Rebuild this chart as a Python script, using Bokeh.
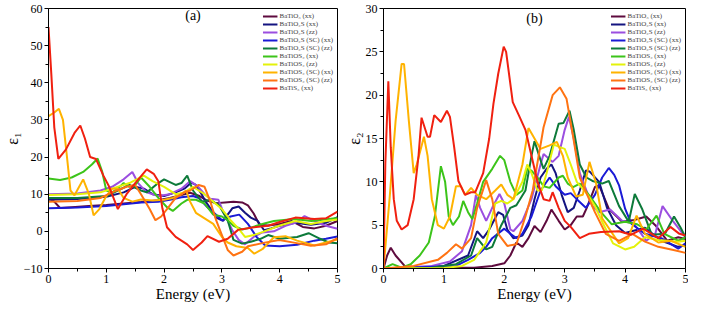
from bokeh.plotting import figure
from bokeh.models import Range1d, Legend, LegendItem, Label, FixedTicker
from bokeh.layouts import row
from bokeh.embed import file_html
from bokeh.resources import INLINE

# ---------------- data: panel (a) epsilon_1 ----------------
labels = ["BaTiO₃ (xx)", "BaTiO₂S (xx)", "BaTiO₂S (zz)", "BaTiO₂S (SC) (xx)",
          "BaTiO₂S (SC) (zz)", "BaTiOS₂ (xx)", "BaTiOS₂ (zz)", "BaTiOS₂ (SC) (xx)",
          "BaTiOS₂ (SC) (zz)", "BaTiS₃ (xx)"]
colors = ["#5e0b3e", "#141480", "#9b4ee0", "#1a1ad6", "#0d7a3a",
          "#3cc41a", "#e4f20a", "#ffb300", "#ff7312", "#f02010"]

x_ticks = [0, 1, 2, 3, 4, 5]
x_minor = [0.5, 1.5, 2.5, 3.5, 4.5]
a_y_ticks = [-10, 0, 10, 20, 30, 40, 50, 60]
a_y_minor = [-5, 5, 15, 25, 35, 45, 55]
b_y_ticks = [0, 5, 10, 15, 20, 25, 30]
b_y_minor = [2.5, 7.5, 12.5, 17.5, 22.5, 27.5]

a_bto3_x = [0, 0.1, 0.2, 0.4, 0.7, 1.0, 1.3, 1.6, 1.9, 2.1, 2.3, 2.45, 2.6, 2.75, 2.9, 3.05, 3.2, 3.35, 3.45, 3.55, 3.65, 3.8, 4.0, 4.2, 4.4, 4.6, 4.8, 5.0]
a_bto3_y = [9.0, 8.0, 6.3, 6.5, 6.8, 7.1, 7.5, 7.9, 8.4, 9.0, 9.8, 10.4, 9.6, 8.2, 7.6, 7.8, 8.0, 7.8, 7.0, 4.8, 1.8, 1.6, 2.0, 2.8, 1.2, 0.8, 1.5, 2.8]

a_bto2s_xx_x = [0, 0.5, 1.0, 1.3, 1.5, 1.65, 1.8, 2.0, 2.2, 2.35, 2.47, 2.55, 2.63, 2.72, 2.8, 2.9, 3.02, 3.18, 3.29, 3.4, 3.5, 3.62, 3.73, 3.85, 4.0, 4.27, 4.54, 4.8, 5.0]
a_bto2s_xx_y = [8.5, 8.7, 9.3, 10.5, 12.0, 11.5, 10.0, 9.5, 10.5, 11.5, 13.1, 12.5, 10.5, 8.0, 6.2, 3.7, 2.8, 6.2, 6.7, 5.0, 3.7, 2.8, 0.3, 0.8, 1.5, 2.3, 1.8, 2.3, 3.8]

a_bto2s_zz_x = [0, 0.5, 0.9, 1.1, 1.3, 1.45, 1.55, 1.7, 1.9, 2.1, 2.3, 2.45, 2.58, 2.7, 2.8, 2.94, 3.02, 3.18, 3.29, 3.4, 3.55, 3.7, 3.9, 4.1, 4.27, 4.43, 4.6, 4.8, 5.0]
a_bto2s_zz_y = [10.0, 10.2, 11.0, 12.0, 14.0, 16.0, 13.0, 10.5, 9.5, 10.0, 11.5, 13.5, 12.2, 10.0, 8.8, 8.5, 5.4, 0.3, -2.3, -3.5, -1.5, -0.3, 0.0, 1.5, 2.3, 4.1, 2.8, 1.5, 0.7]

a_bto2s_scxx_x = [0, 0.5, 1.0, 1.3, 1.6, 1.9, 2.1, 2.3, 2.5, 2.6, 2.75, 2.9, 3.0, 3.15, 3.3, 3.45, 3.6, 3.75, 4.0, 4.3, 4.6, 4.8, 5.0]
a_bto2s_scxx_y = [6.2, 6.4, 6.8, 7.3, 7.8, 8.0, 8.5, 9.2, 9.5, 9.0, 6.5, 4.5, 3.0, 4.0, 4.5, 2.0, -1.5, -3.8, -4.0, -3.6, -2.5, -2.0, -1.4]

a_bto2s_sczz_x = [0, 0.5, 1.0, 1.2, 1.4, 1.6, 1.7, 1.9, 2.0, 2.2, 2.3, 2.4, 2.5, 2.65, 2.8, 2.95, 3.1, 3.2, 3.35, 3.5, 3.67, 3.8, 4.0, 4.3, 4.5, 4.7, 4.85, 5.0]
a_bto2s_sczz_y = [9.0, 9.0, 9.5, 11.0, 12.5, 11.0, 10.5, 13.0, 14.0, 12.5, 13.0, 15.0, 11.0, 8.0, 8.5, 7.0, 3.0, -2.3, -3.3, -2.8, -2.0, -1.0, -2.0, -1.5, -0.5, -2.0, -3.0, -3.2]

a_btos2_xx_x = [0, 0.1, 0.2, 0.4, 0.6, 0.75, 0.85, 0.93, 1.0, 1.1, 1.2, 1.3, 1.4, 1.5, 1.6, 1.75, 1.9, 2.05, 2.15, 2.3, 2.4, 2.55, 2.7, 2.85, 3.0, 3.1, 3.2, 3.35, 3.5, 3.7, 3.9, 4.25, 4.55, 5.0]
a_btos2_xx_y = [14.2, 14.0, 13.8, 14.5, 16.0, 18.0, 19.6, 16.0, 11.0, 10.5, 11.5, 13.0, 12.0, 12.5, 14.5, 12.0, 9.0, 6.5, 5.5, 7.5, 8.5, 8.5, 7.5, 4.5, 4.0, 3.0, 1.5, 0.5, 1.0, 2.0, 2.8, 3.3, 2.8, 3.6]

a_btos2_zz_x = [0, 0.5, 0.9, 1.1, 1.4, 1.65, 1.8, 2.0, 2.2, 2.35, 2.5, 2.6, 2.7, 2.85, 3.0, 3.15, 3.3, 3.4, 3.55, 3.7, 3.99, 4.27, 4.54, 4.8, 5.0]
a_btos2_zz_y = [9.8, 10.0, 10.5, 11.5, 13.0, 15.0, 13.5, 12.0, 10.0, 10.5, 12.0, 11.0, 10.0, 8.0, 6.0, 3.0, 0.5, -1.5, -1.0, -0.2, 1.5, 2.8, 2.0, 2.8, 3.2]

a_btos2_scxx_x = [0, 0.1, 0.18, 0.25, 0.32, 0.38, 0.45, 0.53, 0.6, 0.7, 0.78, 0.88, 1.0, 1.1, 1.2, 1.3, 1.45, 1.6, 1.8, 2.0, 2.15, 2.3, 2.38, 2.45, 2.55, 2.7, 2.85, 3.0, 3.1, 3.25, 3.45, 3.56, 3.7, 3.9, 4.1, 4.3, 4.6, 5.0]
a_btos2_scxx_y = [31.0, 32.0, 33.0, 30.0, 20.0, 11.0, 9.7, 12.0, 14.0, 10.0, 4.3, 6.0, 9.5, 11.5, 11.5, 9.0, 8.0, 8.6, 8.3, 8.5, 9.0, 10.0, 11.0, 8.0, 5.0, 3.5, 2.0, -1.5, -3.0, -4.0, -4.5, -6.0, -4.8, -1.6, -1.3, -2.5, -3.8, -2.2]

a_btos2_sczz_x = [0, 0.5, 0.9, 1.1, 1.35, 1.5, 1.6, 1.75, 1.85, 1.95, 2.05, 2.2, 2.35, 2.45, 2.6, 2.7, 2.8, 2.9, 3.0, 3.1, 3.2, 3.35, 3.45, 3.72, 3.99, 4.27, 4.54, 4.8, 5.0]
a_btos2_sczz_y = [8.0, 8.2, 9.0, 10.5, 12.0, 12.5, 10.0, 6.0, 3.0, 4.0, 6.0, 9.0, 10.5, 11.0, 12.5, 12.0, 8.0, 3.0, -1.0, -5.0, -6.5, -5.5, -4.0, -3.1, -2.3, -3.1, -3.9, -3.5, -1.8]

a_bts3_x = [0, 0.05, 0.1, 0.17, 0.3, 0.45, 0.55, 0.63, 0.72, 0.82, 0.95, 1.05, 1.2, 1.35, 1.5, 1.7, 1.82, 1.9, 1.97, 2.05, 2.2, 2.4, 2.5, 2.65, 2.75, 2.95, 3.1, 3.28, 3.5, 3.8, 4.0, 4.27, 4.6, 4.8, 5.0]
a_bts3_y = [55.0, 42.0, 28.0, 19.5, 22.0, 26.5, 28.5, 25.0, 20.0, 19.5, 15.0, 12.0, 6.0, 10.0, 13.0, 16.7, 15.5, 13.5, 6.2, 1.1, -1.5, -3.5, -5.0, -3.0, -1.3, -2.8, -2.0, 0.4, 1.0, 1.5, 2.5, 3.7, 3.3, 3.5, 5.3]

# ---------------- data: panel (b) epsilon_2 ----------------
b_bto3_x = [0, 0.06, 0.12, 0.2, 0.35, 0.6, 1.0, 1.5, 1.8, 2.0, 2.1, 2.2, 2.3, 2.4, 2.5, 2.6, 2.7, 2.78, 2.9, 3.0, 3.1, 3.2, 3.3, 3.36, 3.5, 3.57, 3.73, 3.95, 4.15, 4.35, 4.5, 4.7, 4.88, 5.0]
b_bto3_y = [0, 1.5, 2.4, 1.5, 0.3, 0.1, 0.1, 0.1, 0.3, 0.6, 1.5, 3.0, 2.5, 3.5, 4.9, 4.2, 5.5, 6.8, 5.5, 4.5, 5.0, 6.0, 6.0, 6.9, 9.4, 9.6, 6.9, 5.4, 5.6, 6.0, 5.0, 3.2, 3.6, 3.4]

b_bto2s_xx_x = [0, 0.5, 1.0, 1.4, 1.55, 1.65, 1.75, 1.9, 1.98, 2.05, 2.15, 2.3, 2.4, 2.5, 2.6, 2.7, 2.78, 2.85, 2.95, 3.05, 3.15, 3.25, 3.35, 3.41, 3.57, 3.7, 3.85, 4.0, 4.33, 4.6, 4.88, 5.0]
b_bto2s_xx_y = [0, 0.05, 0.3, 1.5, 4.3, 3.5, 4.5, 6.5, 6.2, 4.5, 3.5, 3.8, 5.0, 8.0, 10.5, 11.5, 12.0, 11.0, 8.5, 6.5, 7.0, 9.0, 11.3, 11.2, 10.0, 7.0, 5.0, 4.1, 4.7, 3.2, 2.5, 2.7]

b_bto2s_zz_x = [0, 0.8, 1.1, 1.3, 1.45, 1.53, 1.6, 1.7, 1.8, 1.92, 2.0, 2.1, 2.15, 2.3, 2.45, 2.6, 2.65, 2.8, 2.9, 3.0, 3.07, 3.15, 3.25, 3.36, 3.46, 3.57, 3.75, 3.95, 4.14, 4.35, 4.5, 4.62, 4.8, 5.0]
b_bto2s_zz_y = [0, 0.3, 0.8, 2.0, 5.0, 8.5, 7.0, 5.5, 7.0, 8.6, 7.5, 4.5, 4.3, 5.5, 8.0, 12.0, 13.2, 12.3, 13.0, 16.0, 17.5, 15.0, 11.0, 9.0, 7.2, 6.5, 6.8, 5.5, 5.2, 3.2, 4.0, 7.2, 5.4, 3.6]

b_bto2s_scxx_x = [0, 1.2, 1.4, 1.6, 1.7, 1.8, 2.0, 2.1, 2.2, 2.3, 2.45, 2.6, 2.75, 2.85, 3.0, 3.1, 3.2, 3.35, 3.5, 3.62, 3.73, 3.82, 3.9, 4.0, 4.1, 4.33, 4.6, 4.88, 5.0]
b_bto2s_scxx_y = [0, 0.3, 1.0, 1.8, 2.5, 3.5, 4.6, 4.0, 3.5, 4.0, 6.0, 9.0, 10.5, 9.5, 8.5, 8.7, 8.0, 7.0, 8.5, 10.5, 11.6, 10.8, 9.6, 6.9, 5.2, 4.0, 3.5, 2.3, 2.9]

b_bto2s_sczz_x = [0, 0.8, 1.2, 1.45, 1.55, 1.7, 1.8, 1.95, 2.1, 2.2, 2.35, 2.45, 2.5, 2.6, 2.65, 2.75, 2.9, 2.98, 3.08, 3.15, 3.25, 3.36, 3.46, 3.62, 3.73, 3.9, 4.06, 4.16, 4.28, 4.44, 4.66, 4.81, 4.92, 5.0]
b_bto2s_sczz_y = [0, 0.1, 0.5, 1.5, 3.5, 2.2, 2.5, 5.0, 7.0, 7.3, 9.0, 13.0, 14.7, 12.5, 11.5, 13.0, 16.7, 16.8, 18.2, 16.0, 12.0, 10.5, 10.1, 9.8, 10.1, 7.2, 5.4, 8.6, 6.9, 3.9, 4.0, 6.0, 4.7, 3.6]

b_btos2_xx_x = [0, 0.15, 0.3, 0.45, 0.6, 0.75, 0.85, 0.95, 1.02, 1.08, 1.15, 1.25, 1.32, 1.4, 1.47, 1.55, 1.65, 1.8, 1.93, 2.0, 2.1, 2.2, 2.3, 2.38, 2.45, 2.55, 2.65, 2.75, 2.9, 2.97, 3.05, 3.14, 3.25, 3.4, 3.6, 3.78, 4.0, 4.2, 4.35, 4.52, 4.65, 4.88, 5.0]
b_btos2_xx_y = [0, 0.5, 0.1, 0.5, 1.5, 3.0, 6.0, 11.8, 10.0, 6.0, 5.0, 6.0, 7.8, 6.5, 5.7, 7.5, 10.0, 11.5, 13.0, 12.5, 10.0, 8.5, 9.0, 11.5, 11.3, 10.5, 9.5, 9.3, 10.5, 10.7, 9.8, 9.4, 9.8, 8.5, 6.5, 5.1, 5.4, 5.1, 4.5, 6.1, 4.0, 3.2, 3.6]

b_btos2_zz_x = [0, 1.0, 1.3, 1.5, 1.6, 1.7, 1.8, 1.85, 1.95, 2.05, 2.15, 2.3, 2.38, 2.45, 2.55, 2.62, 2.7, 2.82, 2.92, 3.0, 3.1, 3.2, 3.36, 3.5, 3.62, 3.8, 4.0, 4.15, 4.33, 4.55, 4.88, 5.0]
b_btos2_zz_y = [0, 0.05, 0.3, 1.0, 2.0, 3.0, 6.0, 7.5, 7.8, 7.5, 8.0, 10.0, 12.0, 11.0, 9.0, 9.0, 11.0, 14.3, 14.0, 13.8, 12.0, 10.0, 8.7, 7.2, 5.4, 2.9, 2.2, 2.5, 3.6, 3.3, 3.1, 3.2]

b_btos2_scxx_x = [0, 0.1, 0.2, 0.3, 0.34, 0.42, 0.5, 0.55, 0.67, 0.73, 0.8, 0.9, 1.0, 1.1, 1.2, 1.28, 1.35, 1.45, 1.55, 1.7, 1.85, 1.95, 2.05, 2.15, 2.3, 2.4, 2.5, 2.6, 2.75, 2.87, 2.97, 3.05, 3.19, 3.3, 3.41, 3.52, 3.62, 3.9, 4.05, 4.19, 4.33, 4.55, 4.76, 5.0]
b_btos2_scxx_y = [0, 8.0, 17.0, 23.6, 23.6, 17.0, 11.0, 12.0, 15.2, 13.0, 8.0, 5.0, 4.6, 6.0, 9.5, 9.5, 8.5, 9.3, 8.5, 8.0, 9.0, 9.7, 8.5, 8.0, 12.0, 16.2, 15.0, 13.8, 14.2, 14.6, 13.0, 10.5, 8.3, 8.5, 12.3, 9.8, 5.8, 2.9, 3.5, 6.1, 4.0, 3.0, 3.2, 2.5]

b_btos2_sczz_x = [0, 0.5, 0.9, 1.05, 1.2, 1.3, 1.45, 1.55, 1.7, 1.8, 1.9, 2.05, 2.2, 2.35, 2.47, 2.65, 2.8, 2.92, 3.03, 3.14, 3.25, 3.36, 3.5, 3.68, 3.9, 4.12, 4.33, 4.55, 4.82, 5.0]
b_btos2_sczz_y = [0, 0.3, 1.0, 1.8, 2.8, 2.3, 3.5, 7.0, 10.2, 8.0, 4.0, 2.6, 2.8, 6.0, 9.0, 16.3, 20.0, 20.9, 19.6, 15.2, 10.5, 8.7, 6.5, 4.0, 3.2, 4.0, 3.1, 2.5, 2.1, 1.8]

b_bts3_x = [0, 0.03, 0.08, 0.12, 0.17, 0.22, 0.3, 0.4, 0.5, 0.58, 0.63, 0.73, 0.77, 0.84, 0.95, 1.05, 1.1, 1.17, 1.24, 1.35, 1.45, 1.52, 1.65, 1.75, 1.82, 1.9, 1.99, 2.03, 2.14, 2.24, 2.35, 2.45, 2.55, 2.65, 2.75, 2.8, 2.9, 3.0, 3.1, 3.25, 3.4, 3.6, 3.9, 4.1, 4.3, 4.55, 4.75, 4.9, 5.0]
b_bts3_y = [0, 12.0, 21.6, 14.0, 8.0, 5.5, 4.5, 5.0, 8.0, 13.0, 17.4, 15.2, 15.2, 17.7, 16.9, 18.2, 17.5, 14.0, 10.1, 8.5, 8.8, 8.8, 11.0, 15.0, 19.0, 22.5, 25.6, 25.0, 19.2, 17.7, 16.0, 13.0, 10.0, 8.0, 7.8, 8.8, 7.0, 5.5, 4.8, 3.5, 4.0, 4.2, 4.3, 3.9, 4.6, 3.5, 4.8, 4.0, 3.8]

a_xs = [a_bto3_x, a_bto2s_xx_x, a_bto2s_zz_x, a_bto2s_scxx_x, a_bto2s_sczz_x,
        a_btos2_xx_x, a_btos2_zz_x, a_btos2_scxx_x, a_btos2_sczz_x, a_bts3_x]
a_ys = [a_bto3_y, a_bto2s_xx_y, a_bto2s_zz_y, a_bto2s_scxx_y, a_bto2s_sczz_y,
        a_btos2_xx_y, a_btos2_zz_y, a_btos2_scxx_y, a_btos2_sczz_y, a_bts3_y]
b_xs = [b_bto3_x, b_bto2s_xx_x, b_bto2s_zz_x, b_bto2s_scxx_x, b_bto2s_sczz_x,
        b_btos2_xx_x, b_btos2_zz_x, b_btos2_scxx_x, b_btos2_sczz_x, b_bts3_x]
b_ys = [b_bto3_y, b_bto2s_xx_y, b_bto2s_zz_y, b_bto2s_scxx_y, b_bto2s_sczz_y,
        b_btos2_xx_y, b_btos2_zz_y, b_btos2_scxx_y, b_btos2_sczz_y, b_bts3_y]

FONT = "Liberation Serif"


def make_panel(xs, ys, yr, ylabel, tag, tag_y, width, bl, br, yticks, yminor):
    p = figure(width=width, height=304, x_range=Range1d(0, 5), y_range=Range1d(*yr),
               output_backend="svg", toolbar_location=None,
               min_border_left=bl, min_border_right=br, min_border_top=8,
               min_border_bottom=0)
    p.grid.visible = False
    p.outline_line_color = "black"
    p.outline_line_width = 1
    p.background_fill_color = "white"
    p.border_fill_color = "white"
    for ax in (p.xaxis[0], p.yaxis[0]):
        ax.major_tick_in = 0
        ax.major_tick_out = 4
        ax.minor_tick_in = 0
        ax.minor_tick_out = 3
        ax.axis_line_color = "black"
        ax.major_tick_line_color = "black"
        ax.minor_tick_line_color = "black"
        ax.major_label_text_font = FONT
        ax.major_label_text_font_size = "12px"
        ax.major_label_text_color = "black"
        ax.axis_label_text_font = FONT
        ax.axis_label_text_font_style = "normal"
        ax.axis_label_text_color = "black"
    p.xaxis.ticker = FixedTicker(ticks=x_ticks, minor_ticks=x_minor)
    p.yaxis.ticker = FixedTicker(ticks=yticks, minor_ticks=yminor)
    p.xaxis.axis_label = "Energy (eV)"
    p.xaxis.axis_label_text_font_size = "15px"
    p.xaxis.axis_label_standoff = 0
    p.xaxis.major_label_standoff = 2
    p.yaxis.axis_label = ylabel
    p.yaxis.axis_label_text_font_size = "16px"
    p.yaxis.axis_label_standoff = 0
    p.yaxis.major_label_standoff = 2

    items = []
    for lab, col, x, y in zip(labels, colors, xs, ys):
        r = p.line(x, y, line_color=col, line_width=2)
        items.append(LegendItem(label=lab, renderers=[r]))
    leg = Legend(items=items, location="top_right")
    leg.label_text_font = FONT
    leg.label_text_font_size = "7px"
    leg.label_height = 8
    leg.glyph_height = 6
    leg.glyph_width = 15
    leg.spacing = 0
    leg.padding = 1
    leg.margin = 3
    leg.label_standoff = 2
    leg.border_line_alpha = 0
    leg.background_fill_alpha = 0
    p.add_layout(leg)

    p.add_layout(Label(x=2.5, y=tag_y, text=tag, text_align="center", text_baseline="middle",
                       text_font=FONT, text_font_size="14px", text_color="black"))
    return p


p1 = make_panel(a_xs, a_ys, (-10, 60), "ε₁", "(a)", 58, 342, 31, 5, a_y_ticks, a_y_minor)
p2 = make_panel(b_xs, b_ys, (0, 30), "ε₂", "(b)", 28.9, 346, 39, 3, b_y_ticks, b_y_minor)

layout = row(p1, p2)
open("out.html", "w").write(file_html(layout, INLINE))
